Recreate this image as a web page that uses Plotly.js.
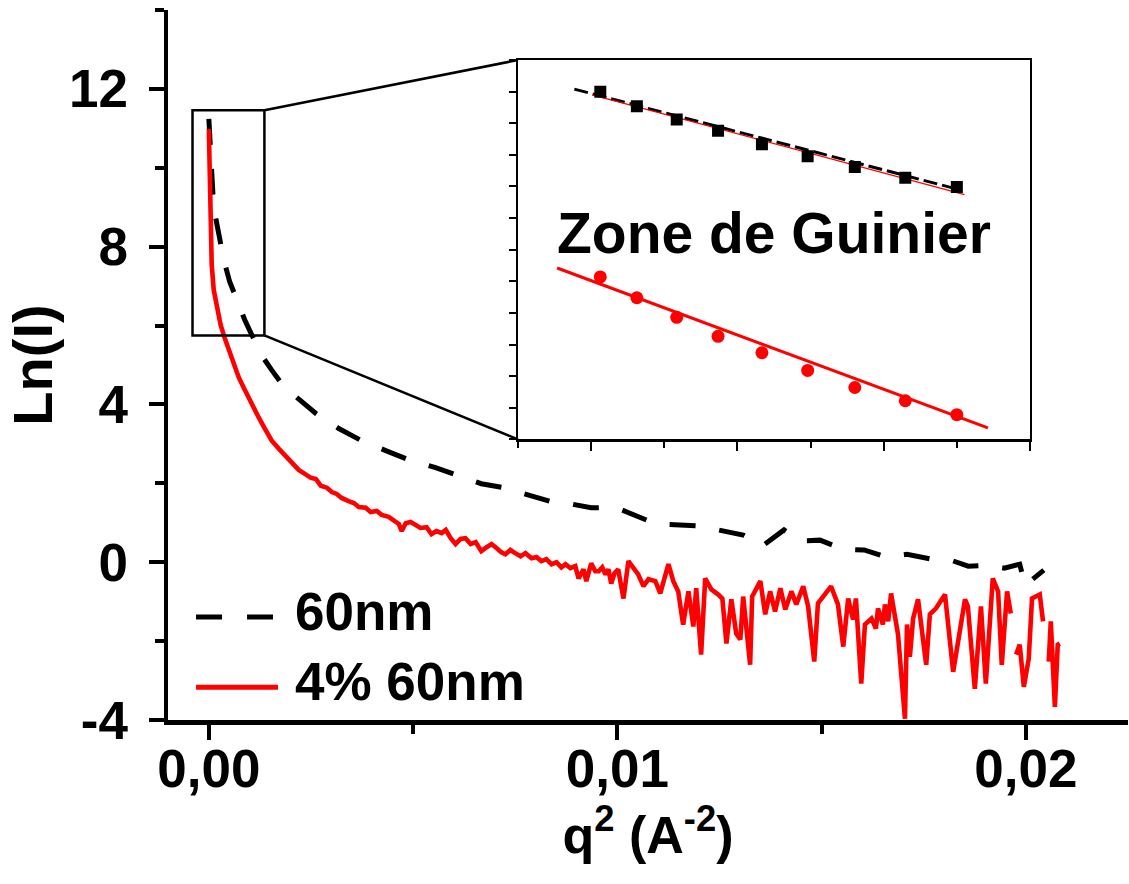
<!DOCTYPE html>
<html>
<head>
<meta charset="utf-8">
<script src="https://cdn.plot.ly/plotly-3.0.1.min.js"></script>
<style>html,body{margin:0;padding:0;background:#fff;}</style>
</head>
<body>
<div id="chart" style="width:1129px;height:884px;"></div>
<script>
// ---------- Main plot data ----------
// "60nm" (dashed black)
const q2_60nm = [0, 0.00002, 0.00005, 0.00007, 0.0001, 0.00015, 0.0002, 0.00027, 0.00034, 0.00042,
  0.00051, 0.00061, 0.00073, 0.00088, 0.00103, 0.00117, 0.00134, 0.00154, 0.00176, 0.002,
  0.0023, 0.00262, 0.00318, 0.00374, 0.00433, 0.00496, 0.00555, 0.00611, 0.00667, 0.00721,
  0.00778, 0.00839, 0.00885, 0.00936, 0.00998, 0.01095, 0.01198, 0.01308, 0.01355, 0.01408,
  0.01447, 0.01496, 0.01553, 0.01604, 0.01658, 0.01709, 0.01768, 0.01817, 0.01859, 0.01903,
  0.01947, 0.01985, 0.01998, 0.02044];
const lnI_60nm = [11.24, 10.73, 10.22, 9.71, 9.33, 8.82, 8.49, 8.18, 7.77, 7.41,
  7.11, 6.85, 6.52, 6.14, 5.81, 5.50, 5.17, 4.87, 4.56, 4.31,
  4.03, 3.77, 3.39, 3.08, 2.83, 2.57, 2.40, 2.19, 1.99, 1.89,
  1.71, 1.53, 1.48, 1.38, 1.38, 0.97, 0.92, 0.69, 0.41, 0.82,
  0.54, 0.56, 0.33, 0.31, 0.13, 0.20, 0.08, 0.05, -0.10, -0.08,
  -0.15, -0.05, -0.59, -0.20];

// "4% 60nm" (solid red)
const q2_4pc = [0, 0.00001, 0.00002, 0.00003, 0.00004, 0.00007, 0.00012, 0.0002, 0.00029, 0.00039,
  0.00049, 0.00061, 0.00073, 0.00086, 0.00098, 0.0011, 0.00122, 0.00137, 0.00154, 0.00171,
  0.00188, 0.00205, 0.0022, 0.00235, 0.0025, 0.00262, 0.00274, 0.00289, 0.00301, 0.00313,
  0.00325, 0.00342, 0.00355, 0.00367, 0.00384, 0.00396, 0.00411, 0.00423, 0.0044, 0.00455,
  0.00465, 0.00472, 0.00482, 0.00494, 0.00506, 0.00518, 0.00533, 0.00545, 0.00557, 0.0057,
  0.0058, 0.00592, 0.00604, 0.00616, 0.00628, 0.00641, 0.00653, 0.00667, 0.0068, 0.00692,
  0.00704, 0.00716, 0.00726, 0.00738, 0.0075, 0.00763, 0.00775, 0.0079, 0.00802, 0.00814,
  0.00826, 0.00839, 0.00851, 0.00863, 0.00873, 0.00885, 0.00897, 0.00905, 0.00917, 0.00924,
  0.00936, 0.00946, 0.00954, 0.00963, 0.00971, 0.00978, 0.00985, 0.00993, 0.01002, 0.01015,
  0.01027, 0.01039, 0.01051, 0.01064, 0.01076, 0.01093, 0.01105, 0.01125, 0.01137, 0.01149,
  0.01161, 0.01174, 0.01186, 0.01193, 0.01205, 0.01215, 0.0123, 0.01247, 0.01257, 0.01267,
  0.01279, 0.01291, 0.01301, 0.01308, 0.01325, 0.0133, 0.0135, 0.01362, 0.01374, 0.01386,
  0.01399, 0.01411, 0.01426, 0.01438, 0.01455, 0.01467, 0.01482, 0.01491, 0.01509, 0.01523,
  0.0154, 0.01553, 0.01565, 0.01577, 0.01584, 0.01597, 0.01606, 0.01622, 0.01633, 0.01638,
  0.0165, 0.01655, 0.01663, 0.0167, 0.01687, 0.01704, 0.01709, 0.01716, 0.01724, 0.01736,
  0.01756, 0.01765, 0.0178, 0.01802, 0.01822, 0.01834, 0.01851, 0.01858, 0.01875, 0.0189,
  0.01902, 0.01919, 0.01932, 0.01941, 0.01954, 0.01963, 0.01969, 0.01976, 0.01985, 0.01995,
  0.02007, 0.02015, 0.02034, 0.02042, 0.02049, 0.02056, 0.02061, 0.02071, 0.02078, 0.02083];
const lnI_4pc = [10.98, 10.22, 9.45, 8.82, 8.18, 7.54, 6.90, 6.40, 6.01, 5.68,
  5.38, 5.02, 4.69, 4.41, 4.15, 3.90, 3.67, 3.39, 3.08, 2.88,
  2.68, 2.52, 2.34, 2.24, 2.14, 2.11, 1.94, 1.89, 1.78, 1.73,
  1.63, 1.55, 1.50, 1.40, 1.38, 1.27, 1.30, 1.20, 1.15, 1.04,
  0.97, 0.79, 0.99, 1.02, 0.94, 0.87, 0.89, 0.71, 0.79, 0.74,
  0.82, 0.61, 0.46, 0.59, 0.61, 0.46, 0.51, 0.28, 0.38, 0.46,
  0.36, 0.25, 0.20, 0.31, 0.23, 0.15, 0.23, 0.10, 0.13, 0.03,
  0.08, -0.05, 0.00, -0.13, -0.05, -0.15, -0.10, -0.41, -0.18, -0.48,
  -0.03, -0.23, -0.23, -0.13, -0.31, -0.18, -0.54, -0.28, -0.18, -0.92,
  0.03, -0.15, -0.31, -0.61, -0.43, -0.48, -0.79, -0.05, -0.48, -0.74,
  -1.58, -0.74, -1.63, -0.66, -2.34, -0.41, -0.69, -0.82, -0.92, -2.06,
  -0.94, -1.81, -1.96, -0.87, -2.60, -0.87, -0.48, -1.32, -0.74, -1.25,
  -0.66, -1.20, -0.74, -1.07, -0.61, -1.12, -2.52, -1.04, -0.79, -0.61,
  -1.07, -2.14, -0.92, -1.45, -0.92, -3.08, -1.58, -1.43, -1.68, -1.17,
  -1.58, -1.07, -1.50, -0.79, -1.83, -3.97, -1.58, -2.40, -1.43, -0.94,
  -2.60, -1.32, -1.17, -0.82, -2.78, -1.94, -0.94, -1.12, -3.21, -1.12,
  -3.08, -0.41, -0.74, -2.60, -0.74, -1.30, null, -2.34, -2.09, -3.16,
  -2.45, -0.92, -0.82, -1.50, null, -2.52, -1.50, -3.67, -2.09, -2.06];

// ---------- Inset (Guinier zone) data ----------
const insetQ2 = [0.000225, 0.000325, 0.000434, 0.000547, 0.000667, 0.000792, 0.000921, 0.001059, 0.0012];
const insetLnI_60nm = [11.50, 11.27, 11.06, 10.88, 10.67, 10.48, 10.31, 10.14, 9.99];
const insetLnI_4pc = [8.57, 8.24, 7.93, 7.63, 7.37, 7.09, 6.82, 6.61, 6.39];
const fit60_q2 = [0.000154, 0.001193];
const fit60_lnI = [11.54, 9.97];
const fit60red_q2 = [0.000203, 0.001221];
const fit60red_lnI = [11.45, 9.87];
const fit4pc_q2 = [0.000107, 0.001285];
const fit4pc_lnI = [8.71, 6.18];

// ---------- Ticks / labels ----------
const xTickVals = [0, 0.01, 0.02];
const xTickText = ['0,00', '0,01', '0,02'];
const xMinorVals = [0.005, 0.015];
const yTickVals = [-4, 0, 4, 8, 12];
const yTickText = ['-4', '0', '4', '8', '12'];
const yMinorVals = [-2, 2, 6, 10, 14];
const seriesNames = ['60nm', '4% 60nm'];
const insetLabel = 'Zone de Guinier';

// ---------- Geometry ----------
const xRange = [-0.001, 0.0225];
const yRange = [-4, 14];
const insetXDomain = [0.3646, 0.8979];
const insetYDomain = [0.3953, 0.9295];
const zoomBox = {x0: -0.0004, x1: 0.00136, y0: 5.75, y1: 11.46};

const FONT = 'Liberation Sans, Arial, Helvetica, sans-serif';

const traces = [
  {x: q2_60nm, y: lnI_60nm, type: 'scatter', mode: 'lines', name: seriesNames[0],
   line: {color: '#000000', width: 5, dash: '26px,24px'}, xaxis: 'x', yaxis: 'y'},
  {x: q2_4pc, y: lnI_4pc, type: 'scatter', mode: 'lines', name: seriesNames[1],
   line: {color: '#ff0000', width: 4.6}, connectgaps: false, xaxis: 'x', yaxis: 'y'},
  // inset
  {x: fit60_q2, y: fit60_lnI, type: 'scatter', mode: 'lines', line: {color: '#000000', width: 3, dash: '14px,5px'}, xaxis: 'x2', yaxis: 'y2'},
  {x: fit60red_q2, y: fit60red_lnI, type: 'scatter', mode: 'lines', line: {color: '#ff0000', width: 1.3}, xaxis: 'x2', yaxis: 'y2'},
  {x: insetQ2, y: insetLnI_60nm, type: 'scatter', mode: 'markers', marker: {symbol: 'square', size: 12, color: '#000000'}, xaxis: 'x2', yaxis: 'y2'},
  {x: fit4pc_q2, y: fit4pc_lnI, type: 'scatter', mode: 'lines', line: {color: '#ff0000', width: 3}, xaxis: 'x2', yaxis: 'y2'},
  {x: insetQ2, y: insetLnI_4pc, type: 'scatter', mode: 'markers', marker: {symbol: 'circle', size: 13, color: '#ff0000'}, xaxis: 'x2', yaxis: 'y2'}
];

// inset corners expressed in main-axis data coordinates
const cornerX = xRange[0] + insetXDomain[0] * (xRange[1] - xRange[0]);
const cornerYTop = yRange[0] + insetYDomain[1] * (yRange[1] - yRange[0]);
const cornerYBot = yRange[0] + insetYDomain[0] * (yRange[1] - yRange[0]);

// legend geometry (paper coords)
const legX0 = 0.0292, legX1a = 0.1094, legX1b = 0.1146, legTextX = 0.1302;
const legY = [0.1452, 0.0462];
const legTextY = [0.1529, 0.0543];

const shapes = [
  {type: 'rect', xref: 'x', yref: 'y', x0: zoomBox.x0, x1: zoomBox.x1, y0: zoomBox.y0, y1: zoomBox.y1,
   line: {color: '#000', width: 2.5}, fillcolor: 'rgba(0,0,0,0)'},
  {type: 'line', xref: 'x', yref: 'y', x0: zoomBox.x1, y0: zoomBox.y1, x1: cornerX, y1: cornerYTop, line: {color: '#000', width: 2.5}},
  {type: 'line', xref: 'x', yref: 'y', x0: zoomBox.x1, y0: zoomBox.y0, x1: cornerX, y1: cornerYBot, line: {color: '#000', width: 2.5}},
  // legend samples
  {type: 'line', xref: 'paper', yref: 'paper', x0: legX0, x1: legX1a, y0: legY[0], y1: legY[0], line: {color: '#000', width: 5, dash: '26px,25px'}},
  {type: 'line', xref: 'paper', yref: 'paper', x0: legX0, x1: legX1b, y0: legY[1], y1: legY[1], line: {color: '#ff0000', width: 5}}
];

const annotations = [
  {xref: 'paper', yref: 'paper', x: legTextX, y: legTextY[0], xanchor: 'left', yanchor: 'middle', showarrow: false,
   text: seriesNames[0], font: {family: FONT, size: 53, color: '#000', weight: 'bold'}},
  {xref: 'paper', yref: 'paper', x: legTextX, y: legTextY[1], xanchor: 'left', yanchor: 'middle', showarrow: false,
   text: seriesNames[1], font: {family: FONT, size: 53, color: '#000', weight: 'bold'}},
  {xref: 'x2 domain', yref: 'y2 domain', x: 0.5, y: 0.545, xanchor: 'center', yanchor: 'middle', showarrow: false,
   text: insetLabel, font: {family: FONT, size: 57, color: '#000', weight: 'bold'}}
];

const layout = {
  width: 1129, height: 884,
  margin: {l: 168, r: 1, t: 10, b: 164, pad: 0},
  paper_bgcolor: '#ffffff', plot_bgcolor: '#ffffff',
  showlegend: false,
  separators: ', ',
  font: {family: FONT, color: '#000', size: 52, weight: 'bold'},
  xaxis: {
    range: xRange, anchor: 'y', showgrid: false, zeroline: false,
    showline: true, linecolor: '#000', linewidth: 4.5,
    ticks: 'outside', tickvals: xTickVals, ticktext: xTickText, ticklen: 15, tickwidth: 4, tickcolor: '#000',
    minor: {tickvals: xMinorVals, ticks: 'outside', ticklen: 9, tickwidth: 4, tickcolor: '#000', showgrid: false},
    tickfont: {family: FONT, size: 53, color: '#000', weight: 'bold'},
    ticklabelstandoff: -16,
    title: {text: 'q<sup>2</sup> (A<sup>-2</sup>)', font: {family: FONT, size: 52, color: '#000', weight: 'bold'}, standoff: 16}
  },
  yaxis: {
    range: yRange, anchor: 'x', showgrid: false, zeroline: false,
    showline: true, linecolor: '#000', linewidth: 4.5,
    ticks: 'outside', tickvals: yTickVals, ticktext: yTickText, ticklen: 15, tickwidth: 4, tickcolor: '#000',
    minor: {tickvals: yMinorVals, ticks: 'outside', ticklen: 9, tickwidth: 4, tickcolor: '#000', showgrid: false},
    tickfont: {family: FONT, size: 53, color: '#000', weight: 'bold'},
    ticklabelstandoff: 10,
    title: {text: 'Ln(I)', font: {family: FONT, size: 56, color: '#000', weight: 'bold'}, standoff: 0}
  },
  xaxis2: {
    domain: insetXDomain, anchor: 'y2', range: [0, 0.0014], showgrid: false, zeroline: false,
    showline: true, mirror: true, linecolor: '#000', linewidth: 2.5,
    ticks: 'outside', tickvals: [0.0002, 0.0006, 0.001, 0.0014], ticklen: 9, tickwidth: 2, tickcolor: '#000',
    minor: {tickvals: [0, 0.0004, 0.0008, 0.0012], ticks: 'outside', ticklen: 6, tickwidth: 2, tickcolor: '#000', showgrid: false},
    showticklabels: false
  },
  yaxis2: {
    domain: insetYDomain, anchor: 'x2', range: [6, 12], showgrid: false, zeroline: false,
    showline: true, mirror: true, linecolor: '#000', linewidth: 2.5,
    ticks: 'outside', dtick: 0.5, tick0: 6, ticklen: 7, tickwidth: 2, tickcolor: '#000',
    showticklabels: false
  },
  shapes: shapes,
  annotations: annotations
};

Plotly.newPlot('chart', traces, layout, {staticPlot: true, displayModeBar: false});
</script>
</body>
</html>
